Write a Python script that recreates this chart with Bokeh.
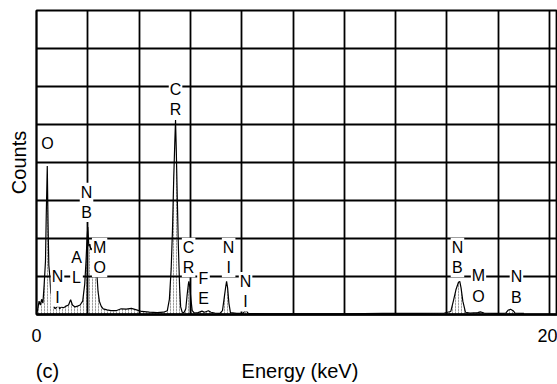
from bokeh.plotting import figure
from bokeh.models import ColumnDataSource, FixedTicker, SingleIntervalTicker, LinearAxis, Range1d
from bokeh.core.properties import value
from bokeh.embed import file_html
from bokeh.resources import INLINE

# ---- data ----
energy_kev = [0.00, 0.05, 0.10, 0.15, 0.20, 0.25, 0.30, 0.35, 0.38, 0.42, 0.45, 0.48, 0.52, 0.56,
              0.60, 0.65, 0.72, 0.80, 0.85, 0.90, 0.97, 1.05, 1.15, 1.25, 1.33, 1.40, 1.50, 1.60,
              1.70, 1.80, 1.88, 1.93, 1.97, 2.00, 2.04, 2.08, 2.12, 2.18, 2.22, 2.26, 2.30, 2.36,
              2.40, 2.45, 2.52, 2.60, 2.75, 2.90, 3.10, 3.30, 3.50, 3.70, 3.90, 4.10, 4.40, 4.70,
              4.95, 5.10, 5.18, 5.25, 5.30, 5.35, 5.39, 5.42, 5.45, 5.49, 5.53, 5.58, 5.62, 5.68,
              5.75, 5.82, 5.87, 5.92, 5.94, 5.97, 6.02, 6.07, 6.15, 6.30, 6.45, 6.55, 6.70, 6.80,
              6.95, 7.15, 7.25, 7.32, 7.38, 7.41, 7.45, 7.50, 7.56, 7.80, 8.05, 8.12, 8.18, 8.25,
              9.00, 10.5, 12.0, 13.5, 15.0, 15.9, 16.15, 16.25, 16.35, 16.45, 16.50, 16.55, 16.62,
              16.72, 16.90, 17.20, 17.30, 17.45, 17.90, 18.30, 18.38, 18.48, 18.58, 18.65, 19.00]
counts = [0.00, 0.15, 0.35, 0.25, 0.40, 0.30, 0.80, 1.40, 2.60, 3.91, 2.40, 1.30, 1.00, 0.55,
          0.70, 0.30, 0.15, 0.20, 0.28, 0.15, 0.20, 0.18, 0.22, 0.25, 0.39, 0.25, 0.20, 0.22,
          0.25, 0.35, 0.80, 1.40, 2.00, 2.30, 1.80, 1.85, 1.70, 1.75, 1.20, 1.05, 1.00, 1.00,
          0.60, 0.35, 0.22, 0.15, 0.12, 0.10, 0.10, 0.15, 0.14, 0.16, 0.12, 0.08, 0.06, 0.05,
          0.06, 0.10, 0.40, 1.20, 2.20, 3.60, 4.50, 5.12, 4.30, 3.00, 1.80, 0.70, 0.20, 0.06,
          0.05, 0.15, 0.50, 0.80, 0.87, 0.75, 0.40, 0.10, 0.04, 0.05, 0.09, 0.06, 0.10, 0.06,
          0.04, 0.03, 0.10, 0.45, 0.75, 0.87, 0.70, 0.30, 0.05, 0.03, 0.03, 0.09, 0.10, 0.03,
          0.02, 0.02, 0.02, 0.03, 0.03, 0.04, 0.08, 0.35, 0.65, 0.85, 0.87, 0.70, 0.35,
          0.06, 0.04, 0.05, 0.07, 0.04, 0.03, 0.04, 0.11, 0.14, 0.10, 0.04, 0.03]

element_labels = ["O", "N\nI", "A\nL", "N\nB", "M\nO", "C\nR", "C\nR", "F\nE", "N\nI", "N\nI",
                  "N\nB", "M\nO", "N\nB"]
label_energy = [0.43, 0.82, 1.56, 1.95, 2.46, 5.42, 5.93, 6.51, 7.49, 8.15, 16.41, 17.23, 18.71]
label_counts = [4.51, 0.72, 1.23, 2.95, 1.50, 5.66, 1.50, 0.68, 1.50, 0.60, 1.50, 0.75, 0.72]

x_ticks = [0, 20]
x_tick_labels = {0: "0", 20: "20"}
x_title = "Energy (keV)"
panel_tag = "(c)"
y_title = "Counts"

FONT = "Liberation Sans"

spec = ColumnDataSource(data=dict(e=energy_kev, c=counts))
labs = ColumnDataSource(data=dict(x=label_energy, y=label_counts, t=element_labels))

p = figure(width=557, height=384, output_backend="svg", toolbar_location=None,
           x_range=Range1d(0, 20.31), y_range=Range1d(0, 8),
           min_border_left=36, min_border_right=0, min_border_top=10, min_border_bottom=69)

p.background_fill_color = "white"
p.border_fill_color = "white"
p.outline_line_color = "black"
p.outline_line_width = 1.8

# grid
p.xgrid.ticker = SingleIntervalTicker(interval=2)
p.ygrid.ticker = SingleIntervalTicker(interval=1)
for g in (p.xgrid, p.ygrid):
    g.grid_line_color = "black"
    g.grid_line_width = 1.8
    g.grid_line_alpha = 1.0

# x axis: tick labels 0 and 20
xa = p.xaxis[0]
xa.ticker = FixedTicker(ticks=x_ticks)
xa.major_label_overrides = x_tick_labels
xa.major_tick_line_color = None
xa.minor_tick_line_color = None
xa.axis_line_color = "black"
xa.axis_line_width = 2.5
xa.major_label_standoff = 8
xa.major_label_text_font = FONT
xa.major_label_text_font_size = "18px"
xa.major_label_text_color = "black"

# second row under the axis: panel tag and axis title on one line
tag_pos = 0.43
title_pos = 10.27
xb = LinearAxis(ticker=FixedTicker(ticks=[tag_pos, title_pos]),
                major_label_overrides={tag_pos: panel_tag, title_pos: x_title})
xb.axis_line_color = None
xb.major_tick_line_color = None
xb.minor_tick_line_color = None
xb.major_label_standoff = 9
xb.major_label_text_font = FONT
xb.major_label_text_font_size = "20px"
xb.major_label_text_color = "black"
p.add_layout(xb, "below")

# y axis
ya = p.yaxis[0]
ya.ticker = FixedTicker(ticks=[])
ya.major_tick_line_color = None
ya.minor_tick_line_color = None
ya.axis_line_color = "black"
ya.axis_line_width = 1.8
ya.major_label_text_font_size = "0px"
ya.axis_label = y_title
ya.axis_label_text_font = FONT
ya.axis_label_text_font_size = "20px"
ya.axis_label_text_font_style = "normal"
ya.axis_label_text_color = "black"
ya.axis_label_standoff = 7

# spectrum with stippled fill
p.varea(x="e", y1=0, y2="c", source=spec, fill_alpha=0,
        hatch_pattern="vertical_dash", hatch_color="black", hatch_alpha=0.55,
        hatch_scale=3, hatch_weight=0.7)
p.line(x="e", y="c", source=spec, line_color="black", line_width=1.2)

# element labels
p.text(x="x", y="y", text="t", source=labs, text_font=value(FONT), text_font_size="16px",
       text_color="black", text_align="center", text_baseline="middle",
       text_line_height=1.2, background_fill_color="white", padding=1)

open("out.html", "w").write(file_html(p, INLINE))
